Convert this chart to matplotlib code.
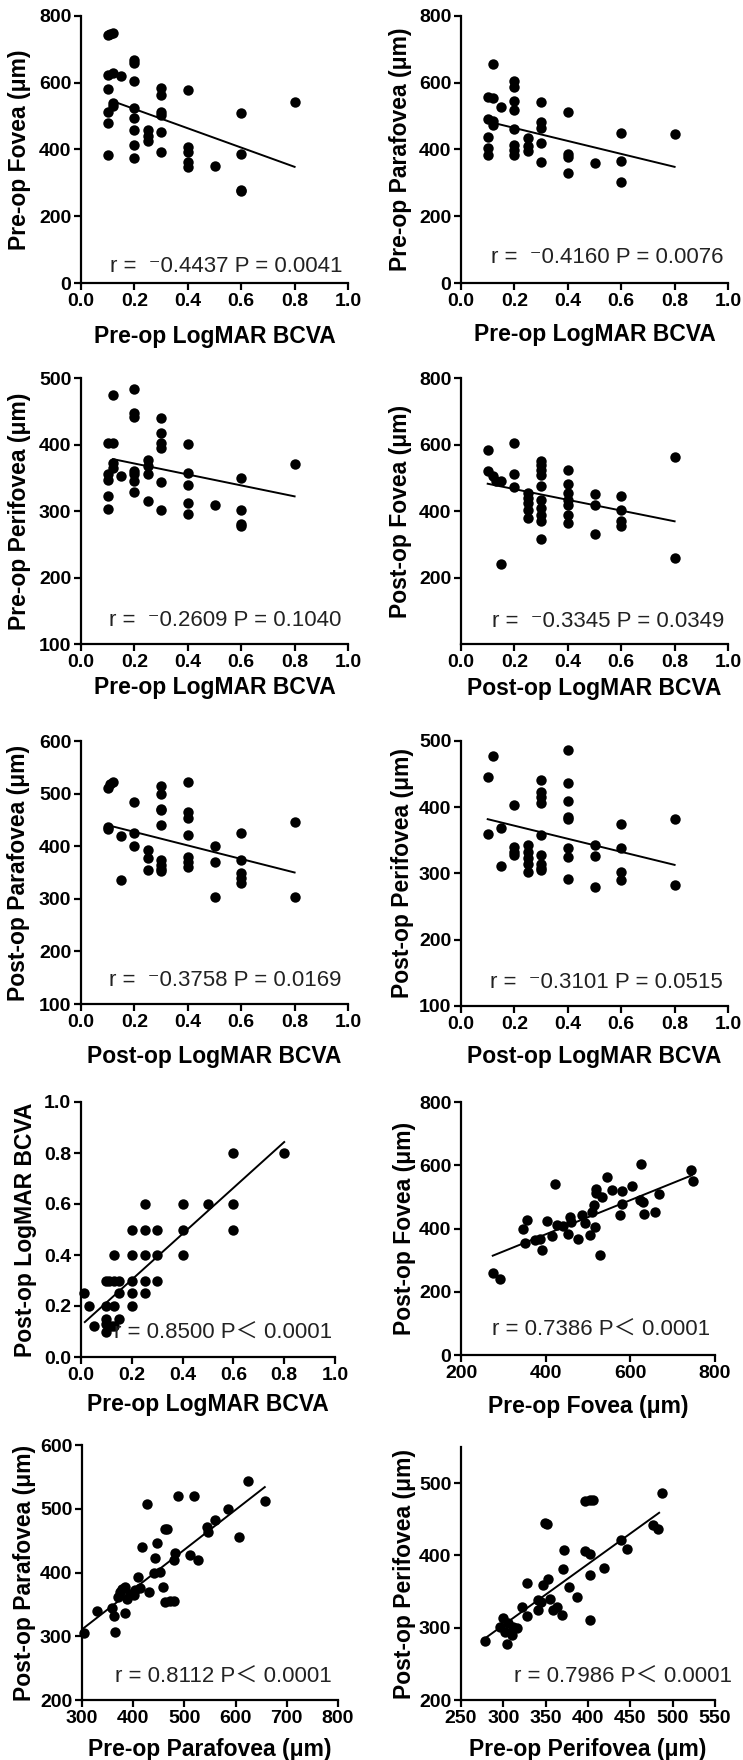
import numpy as np
import matplotlib
matplotlib.use("Agg")
import matplotlib.pyplot as plt

FAM = ['Liberation Sans', 'DejaVu Sans', 'Noto Sans CJK SC']
plt.rcParams['font.family'] = FAM

# ---------------- data ----------------
p1_x = [0.10, 0.12, 0.11, 0.10, 0.12, 0.15, 0.10, 0.10, 0.12, 0.12, 0.10, 0.10,
        0.2, 0.2, 0.2, 0.2, 0.2, 0.2, 0.2, 0.2, 0.25, 0.25, 0.25,
        0.3, 0.3, 0.3, 0.3, 0.3, 0.3, 0.4, 0.4, 0.4, 0.4, 0.4, 0.5,
        0.6, 0.6, 0.6, 0.6, 0.8]
p1_y = [742, 748, 745, 622, 630, 620, 580, 512, 530, 540, 478, 383,
        667, 660, 605, 523, 493, 458, 413, 376, 458, 440, 425,
        583, 563, 513, 503, 453, 393, 578, 408, 393, 363, 348, 351,
        508, 388, 279, 275, 543]

p2_x = [0.12, 0.10, 0.12, 0.10, 0.12, 0.12, 0.10, 0.10, 0.10, 0.15,
        0.2, 0.2, 0.2, 0.2, 0.2, 0.2, 0.2, 0.2, 0.25, 0.25, 0.25,
        0.3, 0.3, 0.3, 0.3, 0.3, 0.4, 0.4, 0.4, 0.4, 0.5, 0.6, 0.6, 0.6, 0.8]
p2_y = [657, 558, 555, 490, 485, 473, 438, 403, 383, 526,
        606, 588, 546, 518, 460, 413, 398, 383, 433, 410, 395,
        543, 483, 463, 418, 363, 513, 388, 378, 329, 361, 448, 365, 302, 445]

p3_x = [0.12, 0.10, 0.12, 0.12, 0.12, 0.10, 0.10, 0.10, 0.10, 0.15,
        0.2, 0.2, 0.2, 0.2, 0.2, 0.2, 0.2, 0.25, 0.25, 0.25, 0.25,
        0.3, 0.3, 0.3, 0.3, 0.3, 0.3, 0.4, 0.4, 0.4, 0.4, 0.4, 0.5,
        0.6, 0.6, 0.6, 0.6, 0.8]
p3_y = [475, 402, 403, 372, 365, 355, 347, 322, 303, 352,
        483, 447, 442, 360, 355, 345, 328, 377, 367, 355, 315,
        440, 418, 402, 395, 344, 302, 401, 357, 339, 312, 295, 309,
        350, 302, 280, 277, 371]

p4_x = [0.10, 0.10, 0.12, 0.13, 0.15, 0.15, 0.2, 0.2, 0.2,
        0.25, 0.25, 0.25, 0.25, 0.25,
        0.3, 0.3, 0.3, 0.3, 0.3, 0.3, 0.3, 0.3, 0.3, 0.3,
        0.4, 0.4, 0.4, 0.4, 0.4, 0.4, 0.4, 0.5, 0.5, 0.5,
        0.6, 0.6, 0.6, 0.6, 0.8, 0.8]
p4_y = [584, 519, 505, 490, 490, 241, 606, 512, 472,
        454, 439, 424, 404, 379,
        549, 539, 524, 509, 474, 434, 409, 389, 369, 316,
        524, 482, 454, 434, 419, 389, 364, 451, 419, 332,
        444, 404, 369, 354, 561, 259]

p5_x = [0.10, 0.11, 0.12, 0.10, 0.10, 0.15, 0.15, 0.2, 0.2, 0.2,
        0.25, 0.25, 0.25, 0.3, 0.3, 0.3, 0.3, 0.3, 0.3, 0.3, 0.3, 0.3,
        0.4, 0.4, 0.4, 0.4, 0.4, 0.4, 0.4, 0.5, 0.5, 0.5,
        0.6, 0.6, 0.6, 0.6, 0.6, 0.8, 0.8]
p5_y = [510, 518, 523, 432, 436, 420, 336, 484, 425, 400,
        393, 377, 354, 515, 499, 471, 468, 441, 373, 365, 357, 352,
        523, 465, 453, 422, 379, 370, 360, 400, 370, 304,
        426, 374, 349, 339, 330, 446, 304]

p6_x = [0.10, 0.12, 0.10, 0.15, 0.15, 0.2, 0.2, 0.2, 0.2,
        0.25, 0.25, 0.25, 0.25, 0.25,
        0.3, 0.3, 0.3, 0.3, 0.3, 0.3, 0.3, 0.3, 0.3,
        0.4, 0.4, 0.4, 0.4, 0.4, 0.4, 0.4, 0.4, 0.5, 0.5, 0.5,
        0.6, 0.6, 0.6, 0.6, 0.8, 0.8]
p6_y = [445, 477, 359, 368, 311, 403, 340, 333, 328,
        343, 333, 323, 315, 303,
        441, 423, 416, 406, 358, 328, 315, 308, 305,
        486, 436, 409, 386, 382, 338, 325, 291, 343, 327, 279,
        374, 338, 302, 290, 382, 282]

p7_x = [0.01, 0.03, 0.05, 0.10, 0.11, 0.13, 0.15, 0.13, 0.10, 0.13,
        0.10, 0.10, 0.10, 0.12, 0.13, 0.15, 0.15,
        0.2, 0.2, 0.2, 0.2, 0.2, 0.25, 0.25, 0.25, 0.25, 0.25,
        0.3, 0.3, 0.3, 0.4, 0.4, 0.4, 0.5, 0.6, 0.6, 0.6, 0.8]
p7_y = [0.25, 0.20, 0.12, 0.30, 0.30, 0.30, 0.30, 0.40, 0.20, 0.20,
        0.15, 0.13, 0.10, 0.12, 0.12, 0.25, 0.15,
        0.5, 0.4, 0.3, 0.25, 0.2, 0.6, 0.5, 0.4, 0.3, 0.25,
        0.5, 0.4, 0.3, 0.6, 0.5, 0.4, 0.6, 0.8, 0.6, 0.5, 0.8]

p8_x = [275, 292, 346, 350, 357, 375, 387, 391, 402, 414, 422, 426, 442, 453,
        457, 461, 477, 487, 493, 505, 509, 513, 517, 518, 520, 532, 528, 544,
        556, 580, 576, 580, 605, 625, 623, 631, 633, 658, 668, 743, 749]
p8_y = [258, 239, 398, 353, 428, 363, 368, 332, 424, 376, 542, 411, 407, 384,
        437, 421, 368, 444, 416, 379, 453, 474, 405, 513, 526, 500, 316, 563,
        521, 519, 442, 479, 535, 605, 489, 484, 447, 453, 510, 586, 549]

p9_x = [303, 329, 358, 362, 365, 384, 371, 375, 378, 384, 388, 394, 401, 404,
        410, 414, 430, 417, 427, 440, 446, 443, 453, 459, 462, 472, 479, 462,
        466, 482, 479, 487, 511, 518, 527, 544, 547, 560, 586, 606, 625, 658]
p9_y = [305, 340, 345, 332, 307, 336, 362, 370, 374, 378, 359, 367, 365, 373,
        393, 376, 370, 440, 508, 400, 446, 422, 401, 378, 354, 356, 356, 468,
        468, 431, 420, 520, 427, 520, 420, 472, 464, 482, 500, 456, 544, 512]

p10_x = [278, 296, 300, 302, 304, 306, 310, 312, 316, 322, 328, 328, 341, 341,
         345, 347, 349, 351, 353, 355, 359, 363, 369, 371, 372, 377, 387, 396,
         402, 406, 396, 402, 402, 402, 419, 439, 446, 477, 483, 487]
p10_y = [282, 301, 313, 294, 278, 306, 290, 301, 300, 328, 316, 362, 324, 338,
         336, 359, 445, 444, 367, 340, 324, 329, 317, 381, 408, 356, 342, 475,
         477, 477, 406, 402, 373, 311, 382, 421, 409, 442, 436, 486]

# regression lines as drawn in the reference (start / end, data units)
fit_x = [(0.125, 0.80), (0.12, 0.80), (0.12, 0.80), (0.10, 0.80), (0.10, 0.80),
         (0.10, 0.80), (0.015, 0.80), (275, 745), (302, 657), (278, 484)]
fit_y = [(543, 348), (480, 348), (378, 322), (482, 369), (440, 350),
         (382, 313), (0.137, 0.843), (314, 568), (312, 534), (285, 459)]

xlabels = ["Pre-op LogMAR BCVA", "Pre-op LogMAR BCVA", "Pre-op LogMAR BCVA",
           "Post-op LogMAR BCVA", "Post-op LogMAR BCVA", "Post-op LogMAR BCVA",
           "Pre-op LogMAR BCVA", "Pre-op Fovea (\u03bcm)",
           "Pre-op Parafovea (\u03bcm)", "Pre-op Perifovea (\u03bcm)"]
ylabels = ["Pre-op Fovea (\u03bcm)", "Pre-op Parafovea (\u03bcm)",
           "Pre-op Perifovea (\u03bcm)", "Post-op Fovea (\u03bcm)",
           "Post-op Parafovea (\u03bcm)", "Post-op Perifovea (\u03bcm)",
           "Post-op LogMAR BCVA", "Post-op Fovea (\u03bcm)",
           "Post-op Parafovea (\u03bcm)", "Post-op Perifovea (\u03bcm)"]
stats = ["r =  \u207b0.4437 P = 0.0041", "r =  \u207b0.4160 P = 0.0076",
         "r =  \u207b0.2609 P = 0.1040", "r =  \u207b0.3345 P = 0.0349",
         "r =  \u207b0.3758 P = 0.0169", "r =  \u207b0.3101 P = 0.0515",
         "r = 0.8500 P\uff1c 0.0001", "r = 0.7386 P\uff1c 0.0001",
         "r = 0.8112 P\uff1c 0.0001", "r = 0.7986 P\uff1c 0.0001"]
bcva_ticks = [0.0, 0.2, 0.4, 0.6, 0.8, 1.0]
xticks = [bcva_ticks] * 7 + [[200, 400, 600, 800], [300, 400, 500, 600, 700, 800],
                             [250, 300, 350, 400, 450, 500, 550]]
yticks = [[0, 200, 400, 600, 800], [0, 200, 400, 600, 800], [100, 200, 300, 400, 500],
          [200, 400, 600, 800], [100, 200, 300, 400, 500, 600], [100, 200, 300, 400, 500],
          bcva_ticks, [0, 200, 400, 600, 800], [200, 300, 400, 500, 600],
          [200, 300, 400, 500]]
xlims = [(0, 1)] * 7 + [(200, 800), (300, 800), (250, 550)]
ylims = [(0, 800), (0, 800), (100, 500), (0, 800), (100, 600), (100, 500),
         (0, 1), (0, 800), (200, 600), (200, 550)]
xs = [p1_x, p2_x, p3_x, p4_x, p5_x, p6_x, p7_x, p8_x, p9_x, p10_x]
ys = [p1_y, p2_y, p3_y, p4_y, p5_y, p6_y, p7_y, p8_y, p9_y, p10_y]

# ---------------- layout (pixels) ----------------
W, H = 743, 1760
rects = [(81, 16, 348, 283), (461, 16, 728, 283),
         (81, 378, 348, 644), (461, 378, 728, 644),
         (81, 741, 348, 1004), (461, 741, 728, 1006),
         (81, 1102, 335, 1357), (461, 1102, 715, 1355),
         (82, 1445, 338, 1700), (461, 1447, 715, 1700)]
xlab_off = [53, 51, 43, 44, 52, 50, 47, 51, 49, 49]
ylab_off = [61, 61, 61, 61, 62, 58, 55, 57, 57, 57]
stat_pos = [(0.98, 0.06), (0.985, 0.097), (0.977, 0.09), (0.985, 0.083),
            (0.977, 0.09), (0.98, 0.09), (0.99, 0.094), (0.98, 0.099),
            (0.977, 0.09), (1.067, 0.09)]

fig = plt.figure(figsize=(W / 100, H / 100), dpi=100)
for i in range(10):
    l, t, r, b = rects[i]
    ax = fig.add_axes([l / W, 1 - b / H, (r - l) / W, (b - t) / H])
    ax.plot(xs[i], ys[i], 'o', color='black', ms=7.5, mew=0, zorder=3,
            clip_on=False)
    ax.plot(fit_x[i], fit_y[i], color='black', lw=1.4, zorder=2)
    ax.set_xlim(*xlims[i])
    ax.set_ylim(*ylims[i])
    ax.set_xticks(xticks[i])
    ax.set_yticks(yticks[i])
    if i < 7:
        ax.set_xticklabels([f"{v:.1f}" for v in xticks[i]])
    if i == 6:
        ax.set_yticklabels([f"{v:.1f}" for v in yticks[i]])
    for s in ['top', 'right']:
        ax.spines[s].set_visible(False)
    for s in ['left', 'bottom']:
        ax.spines[s].set_linewidth(1.6)
        ax.spines[s].set_color('black')
    ax.tick_params(axis='both', direction='out', length=5, width=1.6,
                   labelsize=14, pad=2, colors='black')
    for lab in ax.get_xticklabels() + ax.get_yticklabels():
        lab.set_fontweight('bold')
    ax.set_xlabel(xlabels[i], fontsize=16.5, fontweight='bold', va='center')
    ax.set_ylabel(ylabels[i], fontsize=16.5, fontweight='bold', va='center')
    ax.xaxis.set_label_coords(0.5, -xlab_off[i] / (b - t))
    ax.yaxis.set_label_coords(-ylab_off[i] / (r - l), 0.5)
    ax.patch.set_alpha(0)
    sx, sy = stat_pos[i]
    ax.text(sx, sy, stats[i], transform=ax.transAxes, ha='right', va='center',
            fontsize=16, color='#222222', family=FAM, clip_on=False)

fig.savefig('out.png', dpi=100)
